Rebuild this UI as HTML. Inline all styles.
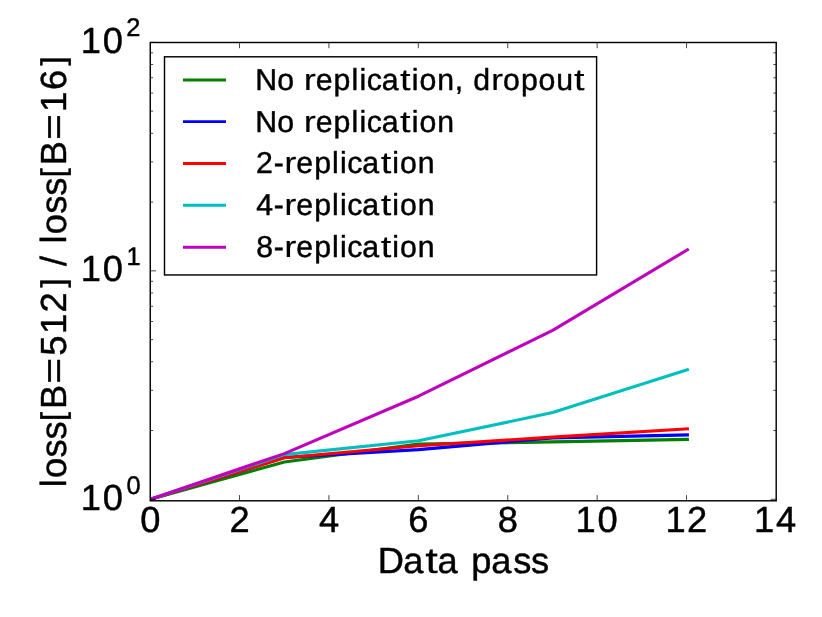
<!DOCTYPE html>
<html><head><meta charset="utf-8"><title>chart</title>
<style>html,body{margin:0;padding:0;background:#fff;overflow:hidden}svg{display:block;will-change:transform}svg text{font-family:"Liberation Sans",sans-serif;white-space:pre;text-rendering:geometricPrecision}</style></head>
<body>
<svg width="822" height="617" viewBox="0 0 822 617">
<rect x="0" y="0" width="822" height="617" fill="#fff"/>
<defs><clipPath id="ax"><rect x="150.25" y="42.5" width="625.95" height="458.30"/></clipPath></defs>
<g clip-path="url(#ax)" fill="none" stroke-linecap="square" stroke-linejoin="round">
<polyline points="150.08,499.30 284.38,462.00 418.51,444.15 552.65,441.90 687.38,439.40" stroke="#008000" stroke-width="3.1"/>
<polyline points="150.08,499.30 284.38,457.50 418.51,449.60 552.65,437.90 687.38,434.95" stroke="#0000ff" stroke-width="3.1"/>
<polyline points="150.08,499.30 284.38,457.70 418.51,445.80 552.65,437.15 687.38,428.90" stroke="#ff0000" stroke-width="3.1"/>
<polyline points="150.08,499.30 284.38,454.65 418.51,440.80 552.65,412.60 687.38,369.75" stroke="#00bfbf" stroke-width="3.1"/>
<polyline points="150.08,499.30 284.38,453.60 418.51,396.20 552.65,330.30 687.38,249.80" stroke="#bf00bf" stroke-width="3.1"/>
</g>
<path d="M239.49 500.8 V495.10 M239.49 42.5 V48.20 M328.91 500.8 V495.10 M328.91 42.5 V48.20 M418.32 500.8 V495.10 M418.32 42.5 V48.20 M507.74 500.8 V495.10 M507.74 42.5 V48.20 M597.15 500.8 V495.10 M597.15 42.5 V48.20 M686.56 500.8 V495.10 M686.56 42.5 V48.20 M150.25 499.30 H155.95 M776.2 499.30 H770.50 M150.25 270.85 H155.95 M776.2 270.85 H770.50 M150.25 42.40 H155.95 M776.2 42.40 H770.50 M150.25 430.53 H153.10 M776.2 430.53 H773.35 M150.25 390.30 H153.10 M776.2 390.30 H773.35 M150.25 361.76 H153.10 M776.2 361.76 H773.35 M150.25 339.62 H153.10 M776.2 339.62 H773.35 M150.25 321.53 H153.10 M776.2 321.53 H773.35 M150.25 306.24 H153.10 M776.2 306.24 H773.35 M150.25 292.99 H153.10 M776.2 292.99 H773.35 M150.25 281.30 H153.10 M776.2 281.30 H773.35 M150.25 202.08 H153.10 M776.2 202.08 H773.35 M150.25 161.85 H153.10 M776.2 161.85 H773.35 M150.25 133.31 H153.10 M776.2 133.31 H773.35 M150.25 111.17 H153.10 M776.2 111.17 H773.35 M150.25 93.08 H153.10 M776.2 93.08 H773.35 M150.25 77.79 H153.10 M776.2 77.79 H773.35 M150.25 64.54 H153.10 M776.2 64.54 H773.35 M150.25 52.85 H153.10 M776.2 52.85 H773.35" stroke="#000" stroke-width="0.72" fill="none"/>
<rect x="150.25" y="42.5" width="625.95" height="458.30" fill="none" stroke="#000" stroke-width="1.43"/>
<g font-family="Liberation Sans, sans-serif" fill="#000" stroke="#000" stroke-width="0.45" stroke-linejoin="round">
<text x="140.16" y="532" font-size="36.29" >0</text>
<text x="229.58" y="532" font-size="36.29" >2</text>
<text x="319.12" y="532" font-size="36.29" >4</text>
<text x="408.30" y="532" font-size="36.29" >6</text>
<text x="497.84" y="532" font-size="36.29" >8</text>
<text x="575.43 597.41" y="532" font-size="36.29" >10</text>
<text x="665.43 686.96" y="532" font-size="36.29" >12</text>
<text x="754.10 776.07" y="532" font-size="36.29" >14</text>
<text x="80.81 102.79" y="53" font-size="36.29" >10</text>
<text x="126.24" y="36" font-size="25.41" >2</text>
<text x="80.81 102.79" y="281" font-size="36.29" >10</text>
<text x="126.43" y="265" font-size="25.41" >1</text>
<text x="80.81 102.79" y="510" font-size="36.29" >10</text>
<text x="126.56" y="494" font-size="25.41" >0</text>
<text x="377.83 403.18" y="573" font-size="36.29" >Da</text><text x="425.29" y="573" font-size="36.29" textLength="12.72" lengthAdjust="spacingAndGlyphs" stroke-width="0.1" >t</text><text x="437.60" y="573" font-size="36.29" >a</text><text x="471.36 491.21 513.19 531.03" y="573" font-size="36.29" >pass</text>
<g transform="translate(66.0,488.0) rotate(-90)"><text x="0.73 9.91 30.56 48.41" y="0" font-size="36.29" >loss</text><text x="67.05" y="-2.28" font-size="32.78" >[</text><text x="79.10" y="0" font-size="36.29" >B</text><text x="104.49" y="0" font-size="36.29" textLength="25.77" lengthAdjust="spacingAndGlyphs" >=</text><text x="132.38 154.11 175.64" y="0" font-size="36.29" >512</text><text x="200.45" y="-2.28" font-size="32.78" >]</text><text x="222.07" y="0" font-size="36.29" >/</text><text x="244.49 253.67 274.33 292.17" y="0" font-size="36.29" >loss</text><text x="310.82" y="-2.28" font-size="32.78" >[</text><text x="322.87" y="0" font-size="36.29" >B</text><text x="348.26" y="0" font-size="36.29" textLength="25.77" lengthAdjust="spacingAndGlyphs" >=</text><text x="376.09 398.07" y="0" font-size="36.29" >16</text><text x="422.42" y="-2.28" font-size="32.78" >]</text></g>
</g>
<rect x="164.5" y="56.8" width="432.10" height="218.15" fill="#fff" stroke="#000" stroke-width="1.43"/>
<g font-family="Liberation Sans, sans-serif" fill="#000" stroke="#000" stroke-width="0.45" stroke-linejoin="round">
<line x1="183.0" x2="226.0" y1="79.9" y2="79.9" stroke="#008000" stroke-width="2.95"/>
<text x="255.35 277.28" y="90" font-size="30.24" >No</text><text x="303.65" y="90" font-size="30.24" textLength="12.18" lengthAdjust="spacingAndGlyphs" stroke-width="0.1" >r</text><text x="315.64 333.60 351.50 359.44 366.69 381.70" y="90" font-size="30.24" >eplica</text><text x="400.12" y="90" font-size="30.24" textLength="10.60" lengthAdjust="spacingAndGlyphs" stroke-width="0.1" >t</text><text x="411.74 419.38 437.21 454.64" y="90" font-size="30.24" >ion,</text><text x="473.22" y="90" font-size="30.24" >d</text><text x="491.02" y="90" font-size="30.24" textLength="12.18" lengthAdjust="spacingAndGlyphs" stroke-width="0.1" >r</text><text x="502.92 520.88 538.50 556.21" y="90" font-size="30.24" >opou</text><text x="573.91" y="90" font-size="30.24" textLength="10.60" lengthAdjust="spacingAndGlyphs" stroke-width="0.1" >t</text>
<line x1="183.0" x2="226.0" y1="121.6" y2="121.6" stroke="#0000ff" stroke-width="2.95"/>
<text x="255.35 277.28" y="132" font-size="30.24" >No</text><text x="303.65" y="132" font-size="30.24" textLength="12.18" lengthAdjust="spacingAndGlyphs" stroke-width="0.1" >r</text><text x="315.64 333.60 351.50 359.44 366.69 381.70" y="132" font-size="30.24" >eplica</text><text x="400.12" y="132" font-size="30.24" textLength="10.60" lengthAdjust="spacingAndGlyphs" stroke-width="0.1" >t</text><text x="411.74 419.38 437.21" y="132" font-size="30.24" >ion</text>
<line x1="183.0" x2="226.0" y1="163.4" y2="163.4" stroke="#ff0000" stroke-width="2.95"/>
<text x="255.89 273.87" y="173" font-size="30.24" >2-</text><text x="284.22" y="173" font-size="30.24" textLength="12.18" lengthAdjust="spacingAndGlyphs" stroke-width="0.1" >r</text><text x="296.22 314.17 332.07 340.01 347.27 362.27" y="173" font-size="30.24" >eplica</text><text x="380.69" y="173" font-size="30.24" textLength="10.60" lengthAdjust="spacingAndGlyphs" stroke-width="0.1" >t</text><text x="392.31 399.95 417.78" y="173" font-size="30.24" >ion</text>
<line x1="183.0" x2="226.0" y1="205.3" y2="205.3" stroke="#00bfbf" stroke-width="2.95"/>
<text x="256.26 273.87" y="215" font-size="30.24" >4-</text><text x="284.22" y="215" font-size="30.24" textLength="12.18" lengthAdjust="spacingAndGlyphs" stroke-width="0.1" >r</text><text x="296.22 314.17 332.07 340.01 347.27 362.27" y="215" font-size="30.24" >eplica</text><text x="380.69" y="215" font-size="30.24" textLength="10.60" lengthAdjust="spacingAndGlyphs" stroke-width="0.1" >t</text><text x="392.31 399.95 417.78" y="215" font-size="30.24" >ion</text>
<line x1="183.0" x2="226.0" y1="247.2" y2="247.2" stroke="#bf00bf" stroke-width="2.95"/>
<text x="256.26 273.87" y="257" font-size="30.24" >8-</text><text x="284.22" y="257" font-size="30.24" textLength="12.18" lengthAdjust="spacingAndGlyphs" stroke-width="0.1" >r</text><text x="296.22 314.17 332.07 340.01 347.27 362.27" y="257" font-size="30.24" >eplica</text><text x="380.69" y="257" font-size="30.24" textLength="10.60" lengthAdjust="spacingAndGlyphs" stroke-width="0.1" >t</text><text x="392.31 399.95 417.78" y="257" font-size="30.24" >ion</text>
</g>
</svg>
</body></html>
